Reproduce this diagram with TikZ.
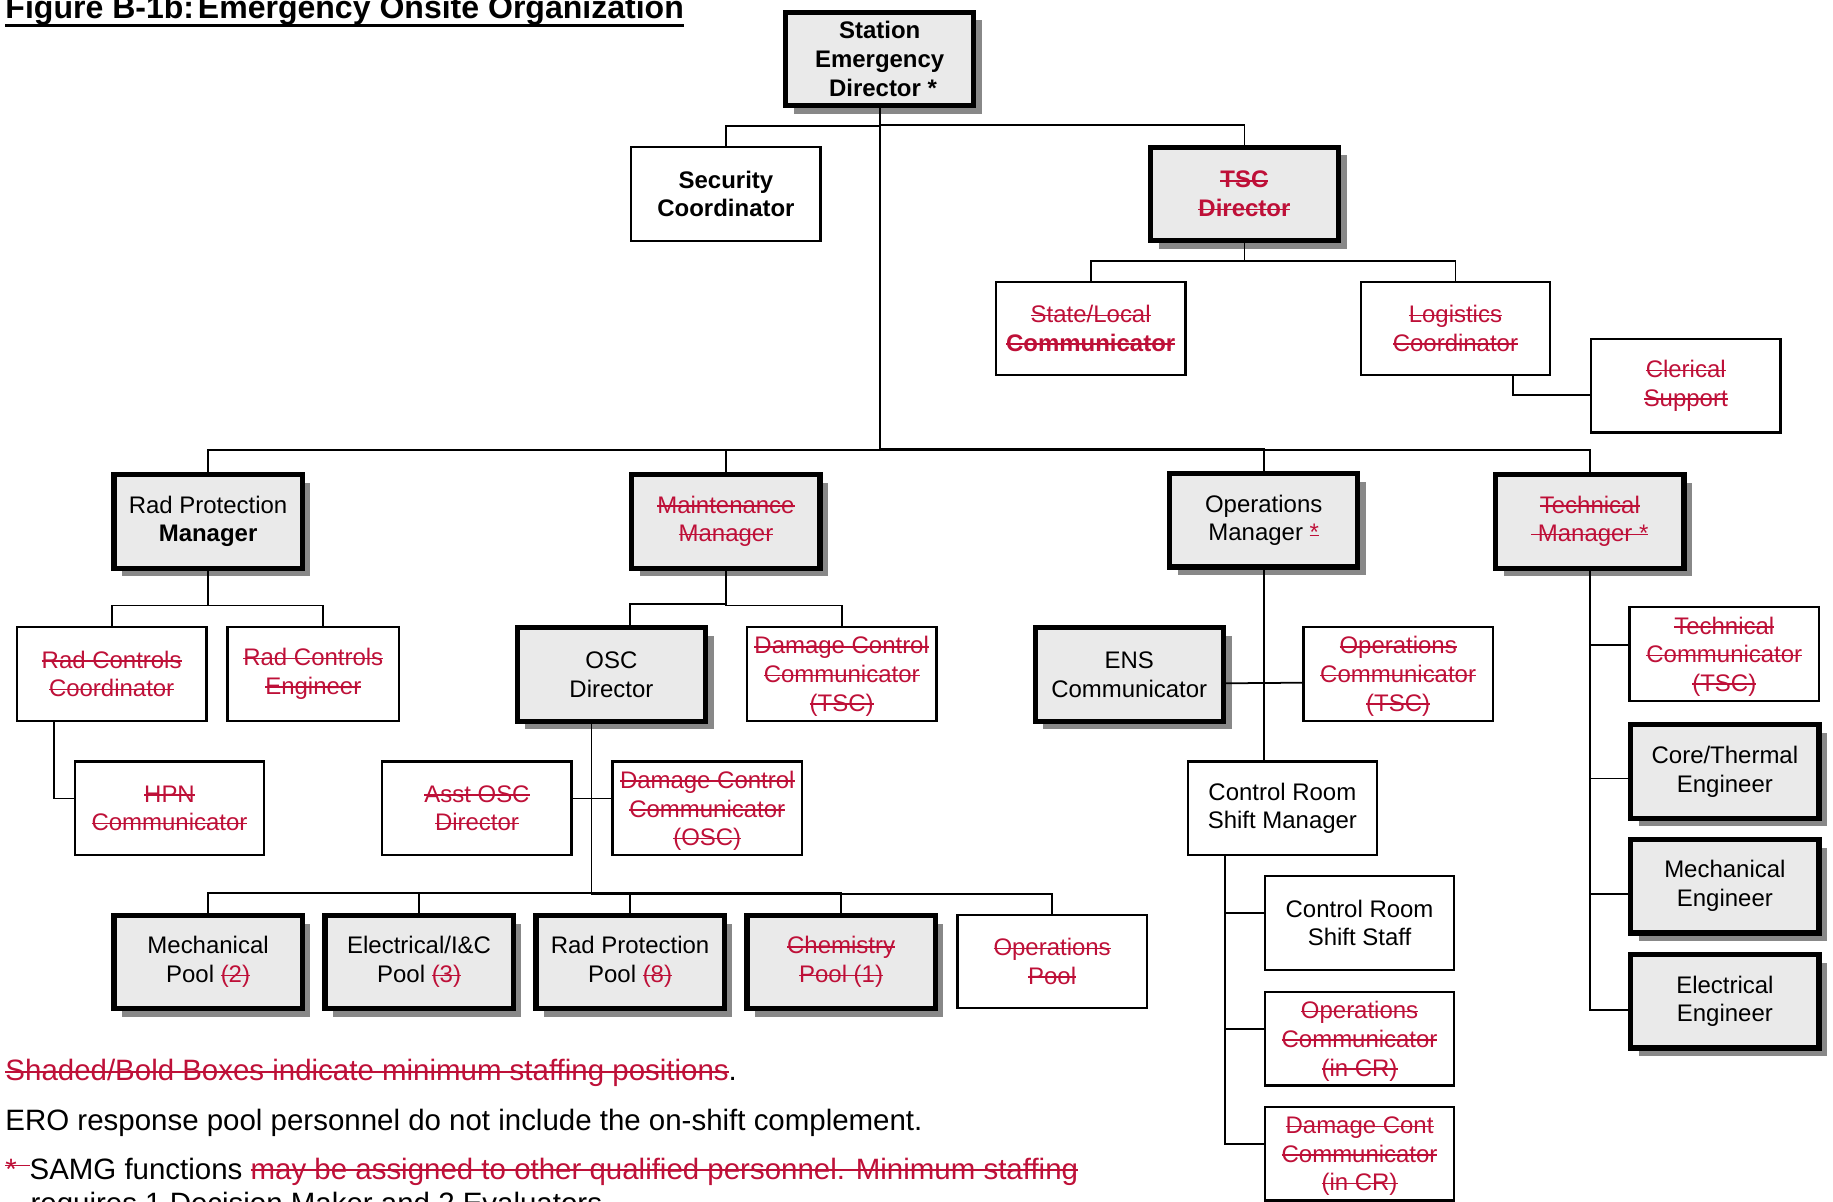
\documentclass[tikz,border=0pt]{standalone}
\usepackage{fontspec}
\setmainfont{Liberation Sans}
\usetikzlibrary{shadows}
\definecolor{strkred}{RGB}{190,16,56}
\definecolor{boxgray}{RGB}{234,234,234}
\definecolor{shadegray}{RGB}{136,136,136}
% struck-out and underlined text
\newcommand\strk[1]{\leavevmode\setbox0\hbox{#1}\rlap{\rule[0.27em]{\wd0}{0.065em}}\box0}
\newcommand\undl[3]{\leavevmode\setbox0\hbox{#3}\rlap{\rule[#1]{\wd0}{#2}}\box0}
\begin{document}
\begin{tikzpicture}
[x=1pt,y=-1pt,
  plainbox/.style={draw,line width=2pt,fill=white,minimum width=162pt,minimum height=80pt,
    inner sep=0pt,align=center,font=\fontsize{20.5}{24.5}\selectfont},
  shadebox/.style={plainbox,line width=4.5pt,fill=boxgray,minimum width=161pt,
    drop shadow={shadow xshift=7pt,shadow yshift=-7pt,fill=shadegray,opacity=1}},
  blacktext/.style={text=black},
  redtext/.style={text=strkred},
  redthree/.style={text=strkred,text depth=-3.5pt},
  notetext/.style={anchor=base west,inner sep=0pt,font=\fontsize{25.2}{29}\selectfont},
  linkdecorate/.style={-,line width=1.5pt}]
\useasboundingbox (0,0) rectangle (1568,1028);
%% title
\node (title) [anchor=base west,inner sep=0pt,font=\fontsize{27.4}{32}\selectfont\bfseries] at (4.5,15.7)
  {\undl{-7.2pt}{2.5pt}{Figure B-1b:\hspace{0.12em}Emergency Onsite Organization}};
%% shaded boxes
\foreach \nodename/\x/\y/\boxstyle/\boxtext in {
  sed/752.5/50.5/blacktext/{\textbf{Station}\\\textbf{Emergency}\\\mbox{\ }\textbf{Director *}},
  tsc/1064.5/166/redtext/{\textbf{\strk{TSC}}\\\textbf{\strk{Director}}},
  rpm/178/446/blacktext/{Rad Protection\\\textbf{Manager}},
  mm/621/446/redtext/{\strk{Maintenance}\\\strk{Manager}},
  om/1081/445/blacktext/{Operations\\Manager {\color{strkred}\undl{0.2em}{1.2pt}{*}}},
  tm/1360/446/redtext/{\strk{Technical}\\\strk{\ Manager *}},
  osc/523/577/blacktext/{OSC\\Director},
  ens/966/577/blacktext/{ENS\\Communicator},
  cte/1475.5/660/blacktext/{Core/Thermal\\Engineer},
  me/1475.5/758/blacktext/{Mechanical\\Engineer},
  ee/1475.5/856.5/blacktext/{Electrical\\Engineer},
  mp/178/823/blacktext/{Mechanical\\Pool {\color{strkred}\strk{(2)}}},
  ep/358.5/823/blacktext/{Electrical/I\&C\\Pool {\color{strkred}\strk{(3)}}},
  rpp/539/823/blacktext/{Rad Protection\\Pool {\color{strkred}\strk{(8)}}},
  cp/719.5/823/redtext/{\strk{Chemistry}\\\strk{Pool (1)}}} {
  \node (\nodename) at (\x,\y) [shadebox,\boxstyle] {\boxtext};
}
%% plain boxes
\foreach \nodename/\x/\y/\boxstyle/\boxtext in {
  sec/621/166/blacktext/{\textbf{Security}\\\textbf{Coordinator}},
  stl/933/281/redtext/{\strk{State/Local}\\\textbf{\strk{Communicator}}},
  log/1245/281/redtext/{\strk{Logistics}\\\strk{Coordinator}},
  cle/1442/330/redtext/{\strk{Clerical}\\\strk{Support}},
  rcc/95.5/576.5/redtext/{\strk{Rad Controls}\\\strk{Coordinator}},
  dct/720/576.5/redthree/{\strk{Damage Control}\\\strk{Communicator}\\\strk{(TSC)}},
  oct/1196/576.5/redthree/{\strk{Operations}\\\strk{Communicator}\\\strk{(TSC)}},
  tc/1475/559.5/redthree/{\strk{Technical}\\\strk{Communicator}\\\strk{(TSC)}},
  hpn/145/691.5/redtext/{\strk{HPN}\\\strk{Communicator}},
  aod/408/691.5/redtext/{\strk{Asst OSC}\\\strk{Director}},
  dco/605/691.5/redthree/{\strk{Damage Control}\\\strk{Communicator}\\\strk{(OSC)}},
  crsm/1097/691.5/blacktext/{Control Room\\Shift Manager},
  opp/900/822.5/redtext/{\strk{Operations}\\\strk{Pool}},
  crss/1163/789.5/blacktext/{Control Room\\Shift Staff},
  occ/1163/888.5/redthree/{\strk{Operations}\\\strk{Communicator}\\\strk{(in CR)}},
  dcc/1163/987/redthree/{\strk{Damage Cont}\\\strk{Communicator}\\\strk{(in CR)}}} {
  \node (\nodename) at (\x,\y) [plainbox,\boxstyle] {\boxtext};
}
\node (rce) at (268,576.5) [plainbox,redtext,minimum width=147pt]
  {\strk{Rad Controls}\\\strk{Engineer}};
%% connectors
\foreach \child in {sec,tsc}
  \draw[linkdecorate] (sed.south) |- ([yshift=17pt]\child.north) -- (\child.north);
\foreach \child in {rpm,mm,om,tm}
  \draw[linkdecorate] (sed.south) |- ([yshift=19pt]\child.north) -- (\child.north);
\foreach \child in {stl,log}
  \draw[linkdecorate] (tsc.south) |- ([yshift=17pt]\child.north) -- (\child.north);
\draw[linkdecorate] ([xshift=49pt]log.south) |- ([yshift=-8pt]cle.west);
\draw[linkdecorate] (rpm.south) |- ([yshift=17.5pt]rcc.north) -- (rcc.north);
\draw[linkdecorate] (rpm.south) |- ([xshift=8pt,yshift=17.5pt]rce.north) -- ([xshift=8pt]rce.north);
\draw[linkdecorate] ([xshift=-49pt]rcc.south) |- ([yshift=8.5pt]hpn.west);
\draw[linkdecorate] (mm.south) |- ([xshift=16pt,yshift=18pt]osc.north) -- ([xshift=16pt]osc.north);
\draw[linkdecorate] (mm.south) |- ([yshift=17.5pt]dct.north) -- (dct.north);
\foreach \child in {mp,ep,rpp,cp,opp}
  \draw[linkdecorate] ([xshift=-17pt]osc.south) |- ([yshift=17pt]\child.north) -- (\child.north);
\draw[linkdecorate] ([yshift=8.5pt]aod.east) -- ([yshift=8.5pt]dco.west);
\draw[linkdecorate] (om.south) -- (om.south |- crsm.north);
\draw[linkdecorate] ([yshift=-7.5pt]ens.east) -- ([yshift=-7.5pt]oct.west);
\foreach \child in {crss,occ,dcc}
  \draw[linkdecorate] ([xshift=-49pt]crsm.south) |- ([yshift=8.5pt]\child.west);
\foreach \child/\dy in {tc/7.5,cte/-6,me/-7,ee/-7.5}
  \draw[linkdecorate] (tm.south) |- ([yshift=\dy pt]\child.west);
%% notes
\node (shaded) [notetext] at (4.5,924.6)
  {{\color{strkred}\strk{Shaded/Bold Boxes indicate minimum staffing positions}}.};
\node (ero) [notetext] at (4.5,966.7)
  {ERO response pool personnel do not include the on-shift complement.};
\node (samg) [notetext] at (4.5,1008.8)
  {{\color{strkred}\undl{0.44em}{1.2pt}{*\hspace{0.43em}}}SAMG functions
   {\color{strkred}\strk{may be assigned to other qualified personnel. Minimum staffing}}};
\node (req) [notetext] at (26,1038)
  {requires 1 Decision Maker and 2 Evaluators.};
\end{tikzpicture}
\end{document}
